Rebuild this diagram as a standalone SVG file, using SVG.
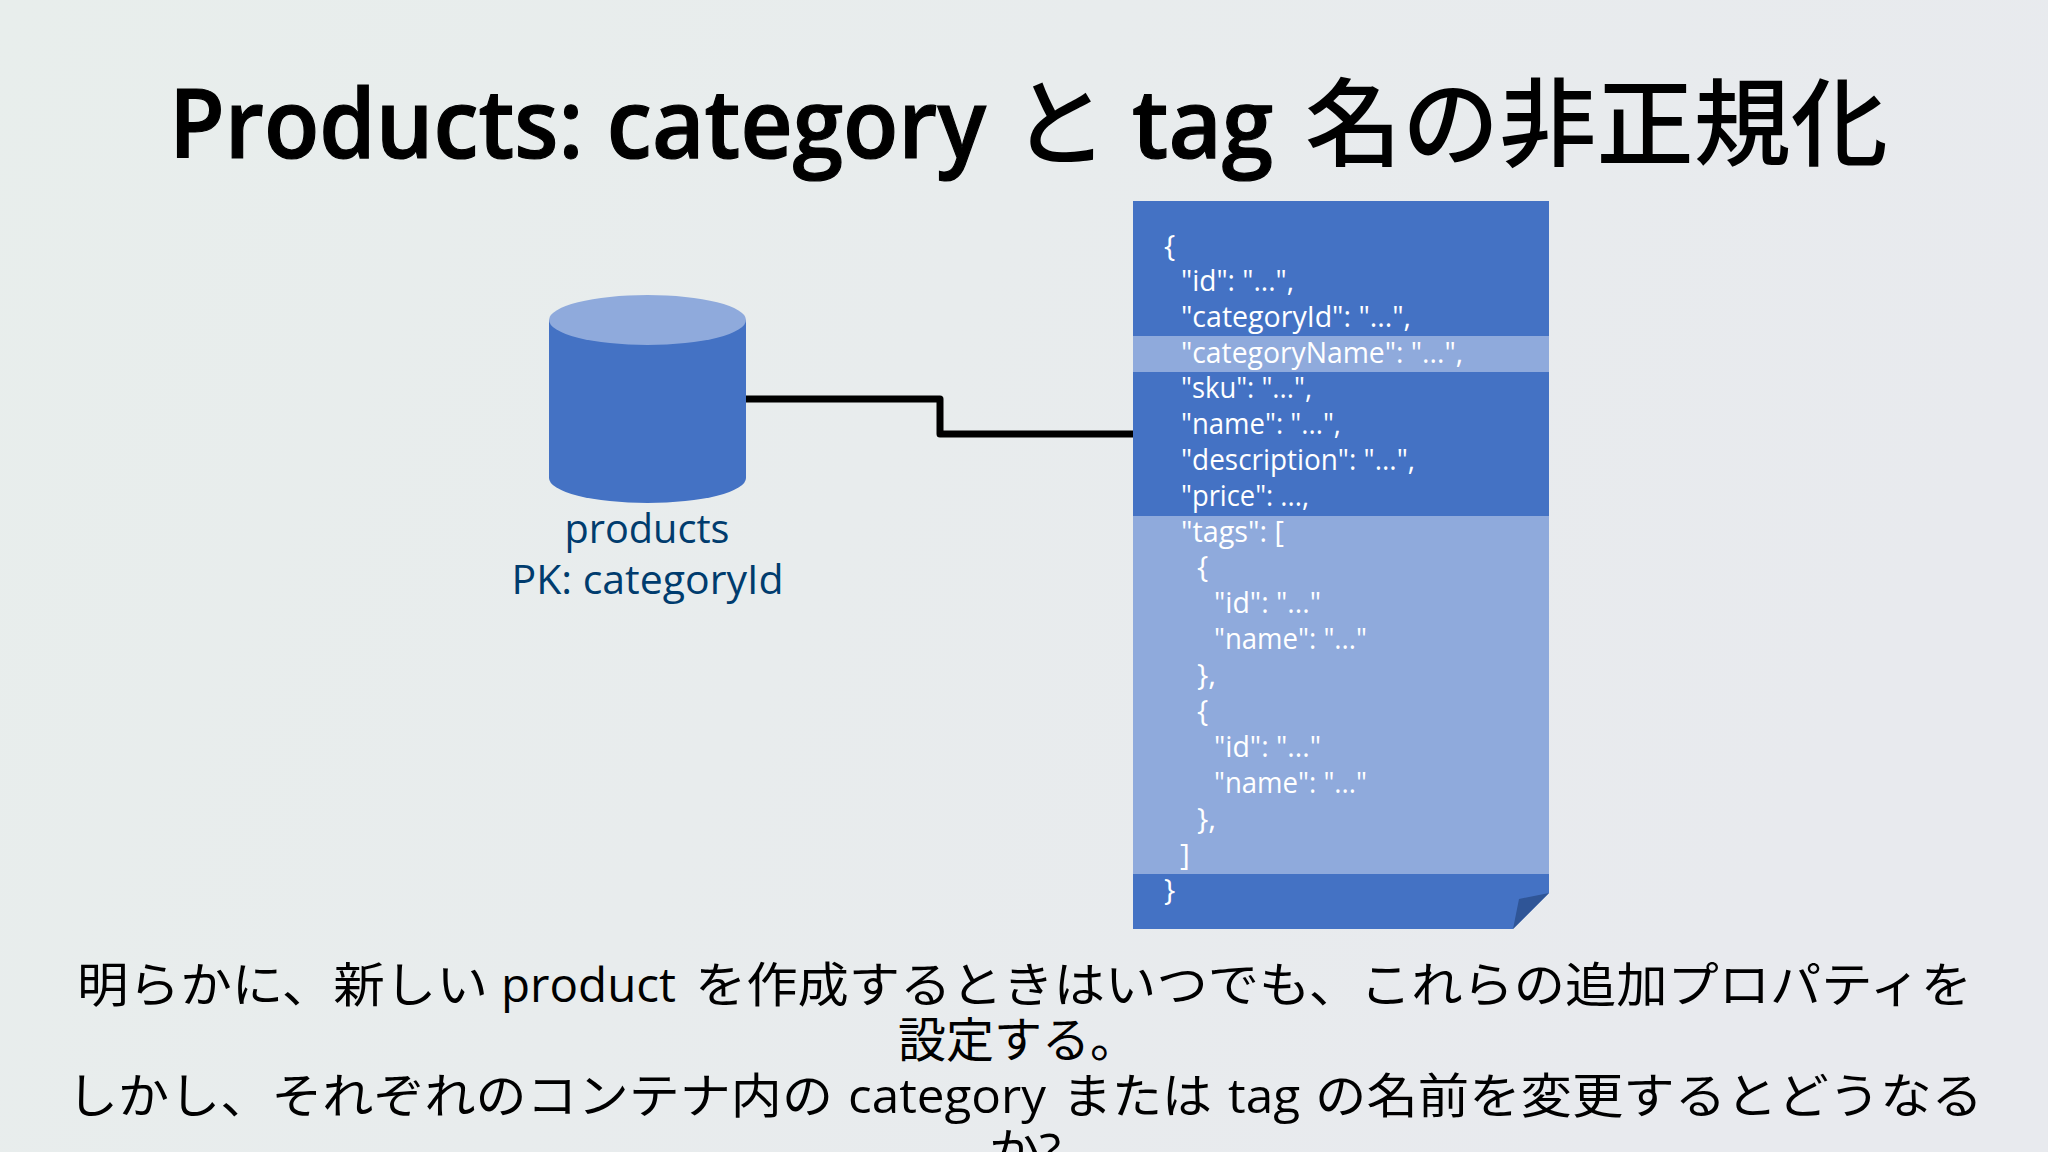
<svg xmlns="http://www.w3.org/2000/svg" width="2048" height="1152" viewBox="0 0 2048 1152">
<style>
text{font-family:"Open Sans","Noto Sans CJK JP",sans-serif}
.title{font-size:96px;font-weight:600;fill:#000}
.la{stroke:#000;stroke-width:1.200}
.cj{font-weight:500}
.body{font-size:48px;fill:#000}
.lbl{font-size:40px;fill:#003c6e;text-anchor:middle}
.j{font-size:30px;fill:#fff}
.conn{fill:none;stroke:#000;stroke-width:7;stroke-linejoin:round}
</style>
<defs><linearGradient id="bg" x1="0" y1="0" x2="1" y2="0.3"><stop offset="0" stop-color="#e8eeec"/><stop offset="1" stop-color="#e8eaee"/></linearGradient></defs>
<rect width="2048" height="1152" fill="url(#bg)"/>
<text id="title" class="title" y="158"><tspan x="169" class="la" textLength="817" lengthAdjust="spacingAndGlyphs">Products: category</tspan> <tspan x="1012" class="cj">と</tspan> <tspan x="1132" class="la" textLength="141" lengthAdjust="spacingAndGlyphs">tag</tspan> <tspan x="1305" class="cj" textLength="583" lengthAdjust="spacingAndGlyphs">名の非正規化</tspan></text>
<g id="connectors"><path class="conn" d="M746 399H940V434H1133"/></g>
<g id="products">
<path d="M549 320V478A98.500 25 0 0 0 746 478V320Z" fill="#4472c4"/>
<ellipse cx="647.500" cy="320" rx="98.500" ry="25" fill="#8faadc"/>
<text class="lbl" x="647" y="543" textLength="165" lengthAdjust="spacingAndGlyphs">products</text>
<text class="lbl" x="647.500" y="594" textLength="272" lengthAdjust="spacingAndGlyphs">PK: categoryId</text>
</g>
<g id="document">
<path d="M1133 201H1549V893L1513 929H1133Z" fill="#4472c4"/>
<rect x="1133" y="336" width="416" height="36" fill="#8faadc"/>
<rect x="1133" y="516" width="416" height="358" fill="#8faadc"/>
<path d="M1513 929L1519 899L1549 893Z" fill="#2f5597"/>
<g>
<text class="j" x="1164" y="256">{</text>
<text class="j" x="1181" y="291" textLength="113" lengthAdjust="spacingAndGlyphs">"id": "...",</text>
<text class="j" x="1181" y="327" textLength="230" lengthAdjust="spacingAndGlyphs">"categoryId": "...",</text>
<text class="j" x="1181" y="363" textLength="282" lengthAdjust="spacingAndGlyphs">"categoryName": "...",</text>
<text class="j" x="1181" y="398" textLength="131" lengthAdjust="spacingAndGlyphs">"sku": "...",</text>
<text class="j" x="1181" y="434" textLength="160" lengthAdjust="spacingAndGlyphs">"name": "...",</text>
<text class="j" x="1181" y="470" textLength="234" lengthAdjust="spacingAndGlyphs">"description": "...",</text>
<text class="j" x="1181" y="506" textLength="128" lengthAdjust="spacingAndGlyphs">"price": ...,</text>
<text class="j" x="1181" y="542" textLength="103" lengthAdjust="spacingAndGlyphs">"tags": [</text>
<text class="j" x="1197" y="577">{</text>
<text class="j" x="1214" y="613" textLength="107" lengthAdjust="spacingAndGlyphs">"id": "..."</text>
<text class="j" x="1214" y="649" textLength="153" lengthAdjust="spacingAndGlyphs">"name": "..."</text>
<text class="j" x="1197" y="685">},</text>
<text class="j" x="1197" y="721">{</text>
<text class="j" x="1214" y="757" textLength="107" lengthAdjust="spacingAndGlyphs">"id": "..."</text>
<text class="j" x="1214" y="793" textLength="153" lengthAdjust="spacingAndGlyphs">"name": "..."</text>
<text class="j" x="1197" y="829">},</text>
<text class="j" x="1180" y="865">]</text>
<text class="j" x="1164" y="900">}</text>
</g>
</g>
<g id="caption">
<text class="body" y="1002"><tspan x="77" textLength="411" lengthAdjust="spacingAndGlyphs">明らかに、新しい</tspan> <tspan x="501" textLength="175" lengthAdjust="spacingAndGlyphs">product</tspan> <tspan x="695" textLength="1277" lengthAdjust="spacingAndGlyphs">を作成するときはいつでも、これらの追加プロパティを</tspan></text>
<text class="body" y="1057"><tspan x="898" textLength="240" lengthAdjust="spacingAndGlyphs">設定する。</tspan></text>
<text class="body" y="1113"><tspan x="67" textLength="766" lengthAdjust="spacingAndGlyphs">しかし、それぞれのコンテナ内の</tspan> <tspan x="848" textLength="198" lengthAdjust="spacingAndGlyphs">category</tspan> <tspan x="1062" textLength="150" lengthAdjust="spacingAndGlyphs">または</tspan> <tspan x="1228" textLength="72" lengthAdjust="spacingAndGlyphs">tag</tspan> <tspan x="1315" textLength="668" lengthAdjust="spacingAndGlyphs">の名前を変更するとどうなる</tspan></text>
<text class="body" y="1168"><tspan x="989" textLength="72" lengthAdjust="spacingAndGlyphs">か?</tspan></text>
</g>
</svg>
